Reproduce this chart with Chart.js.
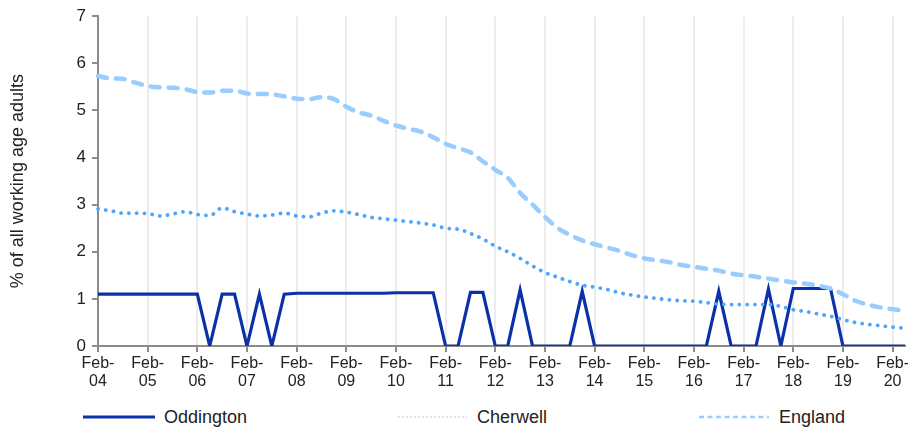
<!DOCTYPE html>
<html>
<head>
<meta charset="utf-8">
<script src="https://cdn.jsdelivr.net/npm/chart.js@4"></script>
<style>
  body { margin: 0; background: #fff; font-family: "Liberation Sans", Arial, sans-serif; }
  #wrap { position: relative; width: 908px; height: 430px; }
  #box { position: absolute; left: 0; top: 0; width: 908px; height: 398px; }
  .leg { position: absolute; top: 406px; height: 22px; font-size: 18px; color: #222; line-height: 22px; }
  .leg svg { position: absolute; left: 0; top: 0; }
  .leg span { position: absolute; white-space: nowrap; }
</style>
</head>
<body>
<div id="wrap">
  <div id="box"><canvas id="grafico"></canvas></div>
  <div class="leg" style="left:83px">
    <svg width="72" height="22"><line x1="0" y1="11" x2="72" y2="11" stroke="#0a31a8" stroke-width="3"/></svg>
    <span style="left:81px">Oddington</span>
  </div>
  <div class="leg" style="left:397px">
    <svg width="70" height="22"><line x1="1" y1="11" x2="70" y2="11" stroke="#d3e6f8" stroke-width="2" stroke-dasharray="2 2"/></svg>
    <span style="left:80px">Cherwell</span>
  </div>
  <div class="leg" style="left:699px">
    <svg width="70" height="22"><line x1="0" y1="11" x2="70" y2="11" stroke="#99ccff" stroke-width="2.5" stroke-dasharray="5 3.5"/></svg>
    <span style="left:80px">England</span>
  </div>
</div>
<script>
const anos = ['04','05','06','07','08','09','10','11','12','13','14','15','16','17','18','19','20'];
const meses = ['Feb','May','Aug','Nov'];

const oddington = [
  1.10, 1.10, 1.10, 1.10, 1.10, 1.10, 1.10, 1.10, 1.10, 0,
  1.10, 1.10, 0, 1.10, 0, 1.10, 1.12, 1.12, 1.12, 1.12,
  1.12, 1.12, 1.12, 1.12, 1.13, 1.13, 1.13, 1.13, 0, 0,
  1.14, 1.14, 0, 0, 1.19, 0, 0, 0, 0, 1.16,
  0, 0, 0, 0, 0, 0, 0, 0, 0, 0,
  1.16, 0, 0, 0, 1.21, 0, 1.22, 1.22, 1.22, 1.22,
  0, 0, 0, 0, 0, 0
];
const cherwell = [
  2.91, 2.87, 2.82, 2.82, 2.81, 2.76, 2.80, 2.85, 2.79, 2.77,
  2.93, 2.85, 2.80, 2.76, 2.78, 2.82, 2.76, 2.74, 2.82, 2.87,
  2.84, 2.79, 2.73, 2.70, 2.67, 2.64, 2.61, 2.57, 2.50, 2.48,
  2.39, 2.27, 2.12, 2.00, 1.86, 1.70, 1.56, 1.46, 1.37, 1.29,
  1.25, 1.20, 1.13, 1.08, 1.04, 1.01, 0.98, 0.96, 0.95, 0.92,
  0.89, 0.88, 0.88, 0.88, 0.88, 0.84, 0.77, 0.73, 0.68, 0.63,
  0.56, 0.50, 0.46, 0.43, 0.40, 0.38
];
const england = [
  5.73, 5.68, 5.67, 5.59, 5.52, 5.49, 5.48, 5.45, 5.39, 5.38,
  5.42, 5.42, 5.36, 5.35, 5.34, 5.30, 5.25, 5.24, 5.28, 5.24,
  5.08, 4.96, 4.89, 4.78, 4.68, 4.61, 4.55, 4.43, 4.29, 4.20,
  4.11, 3.92, 3.74, 3.57, 3.25, 3.00, 2.74, 2.51, 2.36, 2.24,
  2.16, 2.09, 2.02, 1.93, 1.86, 1.82, 1.78, 1.72, 1.68, 1.64,
  1.60, 1.54, 1.50, 1.47, 1.43, 1.39, 1.35, 1.32, 1.28, 1.22,
  1.10, 0.96, 0.88, 0.82, 0.78, 0.75
];

// rótulos trimestrais: Feb-04 ... May-20
const trimestres = [];
anos.forEach(function (a) {
  meses.forEach(function (m) { trimestres.push(m + '-' + a); });
});
trimestres.length = oddington.length;

const cinza = '#8c8c8c';

new Chart(document.getElementById('grafico').getContext('2d'), {
  type: 'line',
  data: {
    labels: trimestres,
    datasets: [{
      label: 'England',
      data: england,
      borderColor: '#99ccff',
      borderWidth: 4.5,
      borderDash: [9, 9],
      borderCapStyle: 'round',
      cubicInterpolationMode: 'monotone',
      pointRadius: 0
    }, {
      label: 'Cherwell',
      data: cherwell,
      borderColor: '#4ea6ff',
      borderWidth: 3.8,
      borderDash: [0.1, 7.7],
      borderCapStyle: 'round',
      cubicInterpolationMode: 'monotone',
      pointRadius: 0
    }, {
      label: 'Oddington',
      data: oddington,
      borderColor: '#0a31a8',
      borderWidth: 3.2,
      tension: 0,
      pointRadius: 0
    }]
  },
  options: {
    animation: false,
    responsive: true,
    maintainAspectRatio: false,
    layout: { padding: { top: 14, right: 3, left: 0, bottom: 0 } },
    plugins: {
      legend: { display: false },
      tooltip: { enabled: false }
    },
    scales: {
      x: {
        offset: false,
        afterFit: function (s) { s.height = 52; },
        border: { color: cinza, width: 2 },
        grid: {
          color: function (c) { return c.index % 4 === 0 ? '#ececec' : 'rgba(0,0,0,0)'; },
          tickColor: function (c) { return c.index % 4 === 0 ? cinza : 'rgba(0,0,0,0)'; },
          lineWidth: 2,
          tickLength: 6
        },
        ticks: {
          autoSkip: false,
          maxRotation: 0,
          minRotation: 0,
          padding: 3,
          color: '#222',
          font: { family: 'Liberation Sans', size: 16, lineHeight: 1.1 },
          callback: function (v, i) {
            if (i % 4 !== 0) return '';
            return ['Feb-', anos[i / 4]];
          }
        }
      },
      y: {
        min: 0,
        max: 7,
        afterFit: function (s) { s.width = 98; },
        border: { color: cinza, width: 2 },
        grid: {
          drawOnChartArea: false,
          drawTicks: true,
          tickLength: 6,
          tickColor: cinza,
          lineWidth: 2
        },
        ticks: {
          stepSize: 1,
          padding: 6,
          color: '#222',
          font: { family: 'Liberation Sans', size: 17 }
        },
        title: {
          display: true,
          text: '% of all working age adults',
          color: '#222',
          padding: { top: 7, bottom: 0 },
          font: { family: 'Liberation Sans', size: 18 }
        }
      }
    }
  }
});
</script>
</body>
</html>
